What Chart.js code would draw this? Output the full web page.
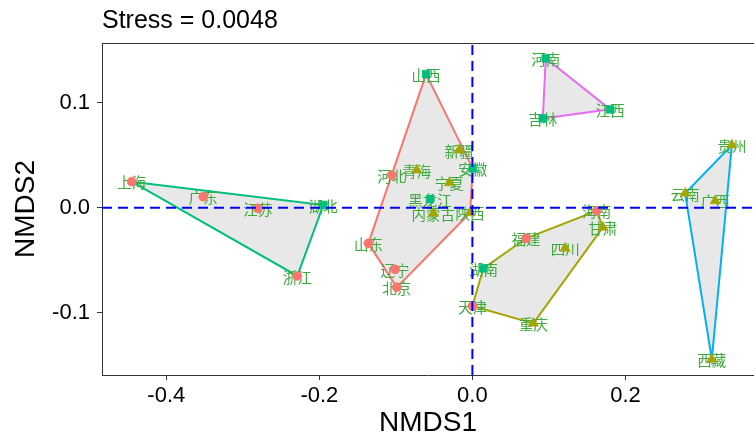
<!DOCTYPE html>
<html><head><meta charset="utf-8">
<script src="https://cdn.jsdelivr.net/npm/chart.js@4.4.1/dist/chart.umd.min.js"></script>
<style>html,body{margin:0;padding:0;background:#fff;}#wrap{width:754px;height:437px;position:relative;}</style>
</head><body><div id="wrap"><canvas id="c" width="754" height="437"></canvas></div>
<script>
// ---- data ----
const provinces = ['上海','广东','江苏','浙江','湖北','山西','新疆','安徽','河北','青海','宁夏','黑龙江','内蒙古','陕西','山东','辽宁','北京','天津','湖南','福建','海南','甘肃','四川','重庆','河南','吉林','江西','贵州','云南','广西','西藏'];
const nmds1 = [-0.4452,-0.3516,-0.2805,-0.2288,-0.1948,-0.0605,-0.0174,0.0005,-0.1054,-0.0727,-0.0301,-0.0553,-0.0510,-0.0030,-0.1359,-0.1010,-0.0988,0.0000,0.0144,0.0702,0.1626,0.1705,0.1212,0.0797,0.0959,0.0920,0.1800,0.3391,0.2780,0.3173,0.3129];
const nmds2 = [0.0248,0.0105,-0.0006,-0.0650,0.0026,0.1273,0.0550,0.0375,0.0311,0.0359,0.0238,0.0083,-0.0053,-0.0048,-0.0339,-0.0587,-0.0758,-0.0936,-0.0577,-0.0291,-0.0029,-0.0187,-0.0387,-0.1101,0.1423,0.0851,0.0937,0.0597,0.0137,0.0067,-0.1444];
const region = ['东部','东部','东部','东部','中部','中部','西部','中部','东部','西部','西部','中部','西部','西部','东部','东部','东部','东部','中部','东部','东部','西部','西部','西部','中部','中部','中部','西部','西部','西部','西部'];
const cluster = [1,1,1,1,1,2,2,2,2,2,2,2,2,2,2,2,2,3,3,3,3,3,3,3,4,4,4,5,5,5,5];
const regionLevels = ['东部','西部','中部'];
const regionStyles = ['circle','triangle','rect'];
const regionColors = ['#F8766D','#A3A500','#00BF7D'];
const clusterLevels = [1,2,3,4,5];
const clusterColors = ['#00BF7D','#F8766D','#A3A500','#E76BF3','#00B0F6'];
const xTicks = [-0.4,-0.2,0.0,0.2];
const yTicks = [-0.1,0.0,0.1];
const xRange = [-0.484,0.368];
const yRange = [-0.1593,0.1569];
const stressText = 'Stress = 0.0048';
const xTitle = 'NMDS1', yTitle = 'NMDS2';

// ---- helpers ----
function convexHull(pts){
  const p = pts.slice().sort((a,b)=>a.x-b.x||a.y-b.y);
  if(p.length<3) return p;
  const cross=(o,a,b)=>(a.x-o.x)*(b.y-o.y)-(a.y-o.y)*(b.x-o.x);
  const lo=[],up=[];
  for(const q of p){while(lo.length>=2&&cross(lo[lo.length-2],lo[lo.length-1],q)<=0)lo.pop();lo.push(q);}
  for(let i=p.length-1;i>=0;i--){const q=p[i];while(up.length>=2&&cross(up[up.length-2],up[up.length-1],q)<=0)up.pop();up.push(q);}
  up.pop();lo.pop();
  return lo.concat(up);
}
const pts = provinces.map((n,i)=>({x:nmds1[i],y:nmds2[i],name:n}));
const hulls = clusterLevels.map(c=>{
  const h = convexHull(pts.filter((p,i)=>cluster[i]===c));
  return h.concat([h[0]]);
});

const datasets = [];
hulls.forEach((h,k)=>datasets.push({type:'scatter',showLine:true,data:h,borderColor:clusterColors[k],borderWidth:2,pointRadius:0,fill:false,order:3,kind:'hull'}));
const radii = [4.6,6,5.6];
regionLevels.forEach((r,k)=>datasets.push({type:'scatter',data:pts.filter((p,i)=>region[i]===r),pointStyle:regionStyles[k],pointRadius:radii[k],backgroundColor:regionColors[k],borderColor:regionColors[k],borderWidth:0.5,order:2,kind:'pts'}));
datasets.push({type:'scatter',showLine:true,data:[{x:xRange[0],y:0},{x:xRange[1],y:0}],borderColor:'#0000FF',borderWidth:2,borderDash:[10,6],pointRadius:0,order:1});
datasets.push({type:'scatter',showLine:true,data:[{x:0,y:yRange[0]},{x:0,y:yRange[1]}],borderColor:'#0000FF',borderWidth:2,borderDash:[10,6],pointRadius:0,order:1});

let labelsDone=false;
const extras = {
  id:'extras',
  beforeDatasetsDraw(chart){
    labelsDone=false;
    const {ctx,scales:{x,y},chartArea:a}=chart;
    ctx.save();
    ctx.beginPath();ctx.rect(a.left,a.top,a.right-a.left,a.bottom-a.top);ctx.clip();
    ctx.fillStyle='#E8E8E8';
    hulls.forEach(h=>{
      ctx.beginPath();
      h.forEach((p,i)=>{const px=x.getPixelForValue(p.x),py=y.getPixelForValue(p.y);i?ctx.lineTo(px,py):ctx.moveTo(px,py);});
      ctx.closePath();ctx.fill();
    });
    ctx.restore();
  },
  beforeDatasetDraw(chart,args){
    const ds=chart.data.datasets[args.index];
    if(ds.kind==='pts'&&!labelsDone){
      labelsDone=true;
      const {ctx,scales:{x,y}}=chart;
      ctx.save();
      ctx.font='14.5px "Noto Sans CJK SC"';
      ctx.fillStyle='#3DAA3D';
      ctx.textAlign='center';ctx.textBaseline='middle';
      pts.forEach(p=>ctx.fillText(p.name,x.getPixelForValue(p.x),y.getPixelForValue(p.y)+1));
      ctx.restore();
    }
  },
  afterDraw(chart){
    const {ctx,chartArea:a}=chart;
    ctx.save();
    ctx.strokeStyle='#333333';ctx.lineWidth=1;
    ctx.beginPath();ctx.moveTo(a.left,a.top+0.5);ctx.lineTo(a.right,a.top+0.5);ctx.stroke();
    ctx.fillStyle='#000';
    ctx.font='25px "Liberation Sans", Arial, sans-serif';
    ctx.textAlign='left';ctx.textBaseline='alphabetic';
    ctx.fillText(stressText,a.left,28);
    ctx.restore();
  }
};

new Chart(document.getElementById('c'),{
  type:'scatter',
  data:{datasets},
  plugins:[extras],
  options:{
    responsive:false,animation:false,devicePixelRatio:1,
    layout:{autoPadding:false,padding:{top:43,left:0,right:0,bottom:0}},
    plugins:{legend:{display:false},tooltip:{enabled:false}},
    scales:{
      x:{type:'linear',min:xRange[0],max:xRange[1],
        afterFit(s){s.height=62;s.paddingLeft=0;s.paddingRight=0;},
        afterBuildTicks(s){s.ticks=xTicks.map(v=>({value:v}));},
        ticks:{color:'#000',font:{family:'"Liberation Sans", Arial',size:22},padding:3,maxRotation:0,autoSkip:false,callback:v=>v.toFixed(1)},
        grid:{display:true,drawOnChartArea:false,drawTicks:true,tickLength:5,color:'#333333',lineWidth:1},
        border:{display:true,color:'#333333',width:1},
        title:{display:true,text:xTitle,color:'#000',font:{family:'"Liberation Sans", Arial',size:28,lineHeight:1},padding:{top:0,bottom:0}}
      },
      y:{type:'linear',min:yRange[0],max:yRange[1],
        afterFit(s){s.width=102;s.paddingTop=0;s.paddingBottom=0;},
        afterBuildTicks(s){s.ticks=yTicks.map(v=>({value:v}));},
        ticks:{color:'#000',font:{family:'"Liberation Sans", Arial',size:22},padding:7,autoSkip:false,callback:v=>v.toFixed(1)},
        grid:{display:true,drawOnChartArea:false,drawTicks:true,tickLength:5,color:'#333333',lineWidth:1},
        border:{display:true,color:'#333333',width:1},
        title:{display:true,text:yTitle,color:'#000',font:{family:'"Liberation Sans", Arial',size:28,lineHeight:1},padding:{top:12,bottom:0}}
      }
    }
  }
});
</script></body></html>
